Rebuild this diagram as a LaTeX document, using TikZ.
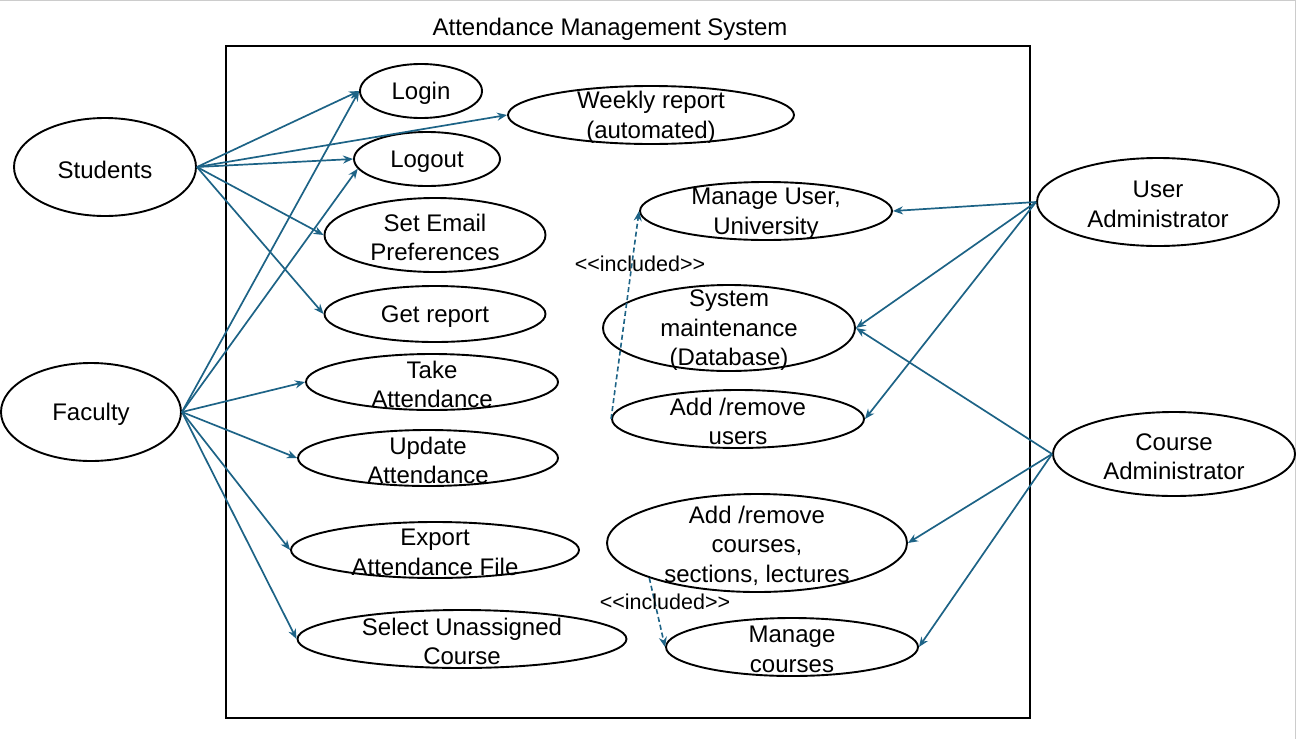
\documentclass[tikz,border=0pt]{standalone}
\usepackage{fontspec}
\setmainfont{Liberation Sans}
\usetikzlibrary{shapes.geometric, arrows.meta}

\definecolor{linkblue}{HTML}{1D6386}

\begin{document}
\begin{tikzpicture}[
    x=1pt, y=-1pt,
    font=\fontsize{24}{29.5}\selectfont,
    >={Stealth[length=10pt, width=8pt]},
    usecase/.style={ellipse, draw, line width=1.9pt, inner sep=0pt},
    every label/.style={align=center, inner sep=0pt, yshift=-2.5pt},
    assoc/.style={->, draw=linkblue, line width=1.7pt},
    incl/.style={->, draw=linkblue, line width=1.6pt, dash pattern=on 5pt off 3pt},
    inclabel/.style={font=\fontsize{21.5}{25}\selectfont}
  ]

  \useasboundingbox (0,0) rectangle (1297,739);
  \draw[black!20, line width=1.2pt] (0,0.8) -- (1295.5,0.8) -- (1295.5,739);

  % system boundary
  \node (title) at (610,29) {Attendance Management System};
  \draw[line width=1.9pt] (226,46) rectangle (1030,718);

  % actors
  \node[usecase, minimum width=182pt, minimum height=98pt, label=center:Students] (students) at (105,167) {};
  \node[usecase, minimum width=180pt, minimum height=98pt, label=center:Faculty] (faculty) at (91,412) {};
  \node[usecase, minimum width=242pt, minimum height=88pt, label={center:{User\\Administrator}}] (useradmin) at (1158,202) {};
  \node[usecase, minimum width=242pt, minimum height=84pt, label={center:{Course\\Administrator}}] (courseadmin) at (1174,454) {};

  % use cases, left column
  \node[usecase, minimum width=122pt, minimum height=54pt, label=center:Login] (login) at (421,91) {};
  \node[usecase, minimum width=286pt, minimum height=58pt, label={center:{Weekly report\\(automated)}}] (weekly) at (651,115) {};
  \node[usecase, minimum width=146pt, minimum height=54pt, label=center:Logout] (logout) at (427,159) {};
  \node[usecase, minimum width=221pt, minimum height=74pt, label={center:{Set Email\\Preferences}}] (email) at (435,235) {};
  \node[usecase, minimum width=221pt, minimum height=56pt, label={center:Get report}] (report) at (435,314) {};
  \node[usecase, minimum width=252pt, minimum height=56pt, label={center:{Take\\Attendance}}] (take) at (432,382) {};
  \node[usecase, minimum width=260pt, minimum height=56pt, label={center:{Update\\Attendance}}] (update) at (428,458) {};
  \node[usecase, minimum width=288pt, minimum height=56pt, label={center:{Export\\Attendance File}}] (export) at (435,550) {};
  \node[usecase, minimum width=329pt, minimum height=58pt, label={center:{Select Unassigned\\Course}}] (select) at (462,639) {};

  % use cases, right column
  \node[usecase, minimum width=252pt, minimum height=58pt, label={center:{Manage User,\\University}}] (manuser) at (766,211) {};
  \node[usecase, minimum width=252pt, minimum height=86pt, label={center:{System\\maintenance\\(Database)}}] (maint) at (729,328) {};
  \node[usecase, minimum width=252pt, minimum height=58pt, label={center:{Add /remove\\users}}] (users) at (738,419) {};
  \node[usecase, minimum width=300pt, minimum height=98pt, label={center:{Add /remove\\courses,\\sections, lectures}}] (courses) at (757,543) {};
  \node[usecase, minimum width=252pt, minimum height=58pt, label={center:{Manage\\courses}}] (mancourses) at (792,647) {};

  % students
  \draw[assoc] (students.east) -- (login.west);
  \draw[assoc] (students.east) -- (weekly.west);
  \draw[assoc] (students.east) -- (logout.west);
  \draw[assoc] (students.east) -- (email.west);
  \draw[assoc] (students.east) -- (report.west);

  % faculty
  \draw[assoc] (faculty.east) -- (login.west);
  \draw[assoc] (faculty.east) -- (logout.188);
  \draw[assoc] (faculty.east) -- (take.west);
  \draw[assoc] (faculty.east) -- (update.west);
  \draw[assoc] (faculty.east) -- (export.west);
  \draw[assoc] (faculty.east) -- (select.west);

  % administrators
  \draw[assoc] (useradmin.west) -- (manuser.east);
  \draw[assoc] (useradmin.west) -- (maint.east);
  \draw[assoc] (useradmin.west) -- (users.east);
  \draw[assoc] (courseadmin.west) -- (maint.east);
  \draw[assoc] (courseadmin.west) -- (courses.east);
  \draw[assoc] (courseadmin.west) -- (mancourses.east);

  % includes
  \draw[incl] (users.west) -- (manuser.west);
  \node[inclabel] (inc1) at (640,264) {<{}<included>{}>};
  \draw[incl] (courses.198) -- (mancourses.west);
  \node[inclabel] (inc2) at (665,602) {<{}<included>{}>};

\end{tikzpicture}
\end{document}
